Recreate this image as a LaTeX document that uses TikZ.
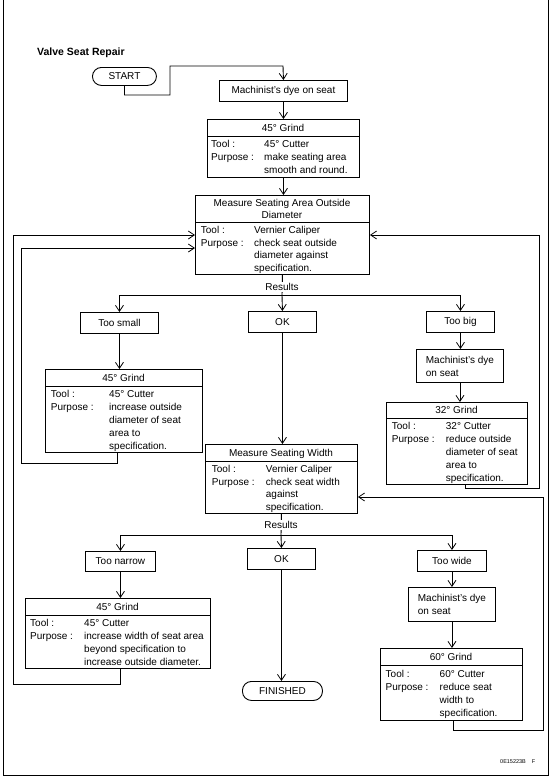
\documentclass[tikz,border=0pt]{standalone}
\usepackage{fontspec}
\setmainfont{Liberation Sans}
\usetikzlibrary{arrows.meta,calc}
\newcommand\fs{\fontsize{10}{13}\selectfont}
\tikzset{
 ln/.style={line width=0.9pt},
 arr/.style={ln, -{Straight Barb[length=6pt,width=8pt,line width=0.8pt]}},
 box/.style={draw, ln, inner sep=0pt, anchor=north west, font=\fs},
 pill/.style={box, rounded corners=9pt},
 tx/.style={inner sep=0pt, anchor=base west, font=\fs},
 hd/.style={inner sep=0pt, anchor=base, font=\fs},
 res/.style={inner sep=1pt, fill=white, font=\fs},
}
\begin{document}
\begin{tikzpicture}[x=1pt,y=-1pt]
\useasboundingbox (0,0) rectangle (555,779);
\draw[ln] (3,0) -- (3,775) -- (548,775) -- (548,0);

\node[inner sep=0pt, anchor=base west, font=\fontsize{10.5}{12}\selectfont\bfseries] (title) at (37,55) {Valve Seat Repair};

% ---- top part
\node[pill, minimum width=64pt, minimum height=18pt] (start) at (92,67) {START};
\node[box, minimum width=128pt, minimum height=21pt] (dye1) at (219,80) {Machinist's dye on seat};

\node[box, minimum width=152pt, minimum height=58pt] (g1) at (207,119) {};
\draw[ln] ($(g1.north west)+(0,17)$) -- ($(g1.north east)+(0,17)$);
\node[hd] (g1h) at (283,131.2) {45° Grind};
\node[tx] (g1l1) at (211,147.3) {Tool :};
\node[tx] (g1l2) at (211,160.3) {Purpose :};
\node[tx] (g1v1) at (264,147.3) {45° Cutter};
\node[tx] (g1v2) at (264,160.3) {make seating area};
\node[tx] (g1v3) at (264,173.3) {smooth and round.};

\node[box, minimum width=174pt, minimum height=79pt] (m1) at (195,195) {};
\draw[ln] ($(m1.north west)+(0,27)$) -- ($(m1.north east)+(0,27)$);
\node[hd] (m1h1) at (282,206.5) {Measure Seating Area Outside};
\node[hd] (m1h2) at (282,218.5) {Diameter};
\node[tx] (m1l1) at (200.7,233.5) {Tool :};
\node[tx] (m1l2) at (200.7,246) {Purpose :};
\node[tx] (m1v1) at (254,233.5) {Vernier Caliper};
\node[tx] (m1v2) at (254,246) {check seat outside};
\node[tx] (m1v3) at (254,258.5) {diameter against};
\node[tx] (m1v4) at (254,271) {specification.};

% ---- first results row
\node[box, minimum width=78pt, minimum height=21pt] (ts) at (80,312) {Too small};
\node[box, minimum width=68pt, minimum height=21pt] (ok1) at (248,311) {OK};
\node[box, minimum width=68pt, minimum height=21pt] (tb) at (426,311) {Too big};
\node[box, minimum width=87pt, minimum height=33pt, align=left] (dye2) at (416,349) {Machinist's dye\\on seat};

\node[box, minimum width=157pt, minimum height=83pt] (g2) at (45,369) {};
\draw[ln] ($(g2.north west)+(0,17)$) -- ($(g2.north east)+(0,17)$);
\node[hd] (g2h) at (123.5,381.2) {45° Grind};
\node[tx] (g2l1) at (50.7,397.5) {Tool :};
\node[tx] (g2l2) at (50.7,410.5) {Purpose :};
\node[tx] (g2v1) at (109,397.5) {45° Cutter};
\node[tx] (g2v2) at (109,410.5) {increase outside};
\node[tx] (g2v3) at (109,423.5) {diameter of seat};
\node[tx] (g2v4) at (109,436.5) {area to};
\node[tx] (g2v5) at (109,449.5) {specification.};

\node[box, minimum width=141pt, minimum height=82pt] (g3) at (386,402) {};
\draw[ln] ($(g3.north west)+(0,16)$) -- ($(g3.north east)+(0,16)$);
\node[hd] (g3h) at (456.5,413.7) {32° Grind};
\node[tx] (g3l1) at (391.7,429.5) {Tool :};
\node[tx] (g3l2) at (391.7,442.5) {Purpose :};
\node[tx] (g3v1) at (445.7,429.5) {32° Cutter};
\node[tx] (g3v2) at (445.7,442.5) {reduce outside};
\node[tx] (g3v3) at (445.7,455.5) {diameter of seat};
\node[tx] (g3v4) at (445.7,468.5) {area to};
\node[tx] (g3v5) at (445.7,481.5) {specification.};

\node[box, minimum width=152pt, minimum height=69pt] (m2) at (205,444) {};
\draw[ln] ($(m2.north west)+(0,17)$) -- ($(m2.north east)+(0,17)$);
\node[hd] (m2h) at (281,456.2) {Measure Seating Width};
\node[tx] (m2l1) at (211.7,472.3) {Tool :};
\node[tx] (m2l2) at (211.7,485) {Purpose :};
\node[tx] (m2v1) at (265.7,472.3) {Vernier Caliper};
\node[tx] (m2v2) at (265.7,485) {check seat width};
\node[tx] (m2v3) at (265.7,497.7) {against};
\node[tx] (m2v4) at (265.7,510.3) {specification.};

% ---- second results row
\node[box, minimum width=70pt, minimum height=20pt] (tn) at (85,551) {Too narrow};
\node[box, minimum width=68pt, minimum height=21pt] (ok2) at (247,548) {OK};
\node[box, minimum width=69pt, minimum height=21pt] (tw) at (417,550) {Too wide};
\node[box, minimum width=87pt, minimum height=34pt, align=left] (dye3) at (408,587) {Machinist's dye\\on seat};

\node[box, minimum width=185pt, minimum height=70pt] (g4) at (25,598) {};
\draw[ln] ($(g4.north west)+(0,17)$) -- ($(g4.north east)+(0,17)$);
\node[hd] (g4h) at (117.5,610.2) {45° Grind};
\node[tx] (g4l1) at (30,626.5) {Tool :};
\node[tx] (g4l2) at (30,639.5) {Purpose :};
\node[tx] (g4v1) at (84,626.5) {45° Cutter};
\node[tx] (g4v2) at (84,639.5) {increase width of seat area};
\node[tx] (g4v3) at (84,652.5) {beyond specification to};
\node[tx] (g4v4) at (84,665.5) {increase outside diameter.};

\node[box, minimum width=142pt, minimum height=72pt] (g5) at (380,648) {};
\draw[ln] ($(g5.north west)+(0,17)$) -- ($(g5.north east)+(0,17)$);
\node[hd] (g5h) at (451,660.2) {60° Grind};
\node[tx] (g5l1) at (385.5,677) {Tool :};
\node[tx] (g5l2) at (385.5,690) {Purpose :};
\node[tx] (g5v1) at (439.5,677) {60° Cutter};
\node[tx] (g5v2) at (439.5,690) {reduce seat};
\node[tx] (g5v3) at (439.5,703) {width to};
\node[tx] (g5v4) at (439.5,716) {specification.};

\node[pill, minimum width=80pt, minimum height=19pt] (fin) at (242,681) {FINISHED};

\node[inner sep=0pt, anchor=base west, font=\fontsize{5.5}{6}\selectfont] (code) at (500,763) {0E15223B\hspace{6pt}F};

% ---- connectors
\coordinate (k1) at (170,95);
\coordinate (k2) at (283,66);
\draw[arr] (start.south) |- (k1) |- (k2) -- (dye1.north);
\draw[arr] (dye1.south) -- (dye1.south |- g1.north);
\draw[arr] (g1.south) -- (g1.south |- m1.north);

\coordinate (br1) at (282,295);
\draw[ln] (m1.south) -- (br1);
\draw[ln] (ts.north |- br1) -- (tb.north |- br1);
\draw[arr] (ts.north |- br1) -- (ts.north);
\draw[arr] (br1) -- (ok1.north);
\draw[arr] (tb.north |- br1) -- (tb.north);
\node[res] (res1) at (282,287) {Results};

\draw[arr] (ts.south) -- (ts.south |- g2.north);
\draw[arr] (tb.south) -- (tb.south |- dye2.north);
\draw[arr] (dye2.south) -- (dye2.south |- g3.north);
\draw[arr] (ok1.south) -- (ok1.south |- m2.north);

\coordinate (br2) at (281,535);
\draw[ln] (m2.south) -- (br2);
\draw[ln] (tn.north |- br2) -- (tw.north |- br2);
\draw[arr] (tn.north |- br2) -- (tn.north);
\draw[arr] (br2) -- (ok2.north);
\draw[arr] (tw.north |- br2) -- (tw.north);
\node[res] (res2) at (281,525) {Results};

\draw[arr] (tn.south) -- (tn.south |- g4.north);
\draw[arr] (tw.south) -- (tw.south |- dye3.north);
\draw[arr] (dye3.south) -- (dye3.south |- g5.north);
\draw[arr] (ok2.south) -- (ok2.south |- fin.north);

% feedback loops
\coordinate (f2a) at (117,463); \coordinate (f2b) at (21,463); \coordinate (f2c) at (21,248);
\draw[arr] (f2a |- g2.south) -- (f2a) -- (f2b) -- (f2c) -- (f2c -| m1.west);
\coordinate (f4a) at (120,684); \coordinate (f4b) at (13,684); \coordinate (f4c) at (13,235);
\draw[arr] (f4a |- g4.south) -- (f4a) -- (f4b) -- (f4c) -- (f4c -| m1.west);
\coordinate (f3a) at (465,488); \coordinate (f3b) at (539,488); \coordinate (f3c) at (539,235);
\draw[arr] (f3a |- g3.south) -- (f3a) -- (f3b) -- (f3c) -- (f3c -| m1.east);
\coordinate (f5a) at (453,730); \coordinate (f5b) at (543,730); \coordinate (f5c) at (543,497);
\draw[arr] (f5a |- g5.south) -- (f5a) -- (f5b) -- (f5c) -- (f5c -| m2.east);
\end{tikzpicture}
\end{document}
